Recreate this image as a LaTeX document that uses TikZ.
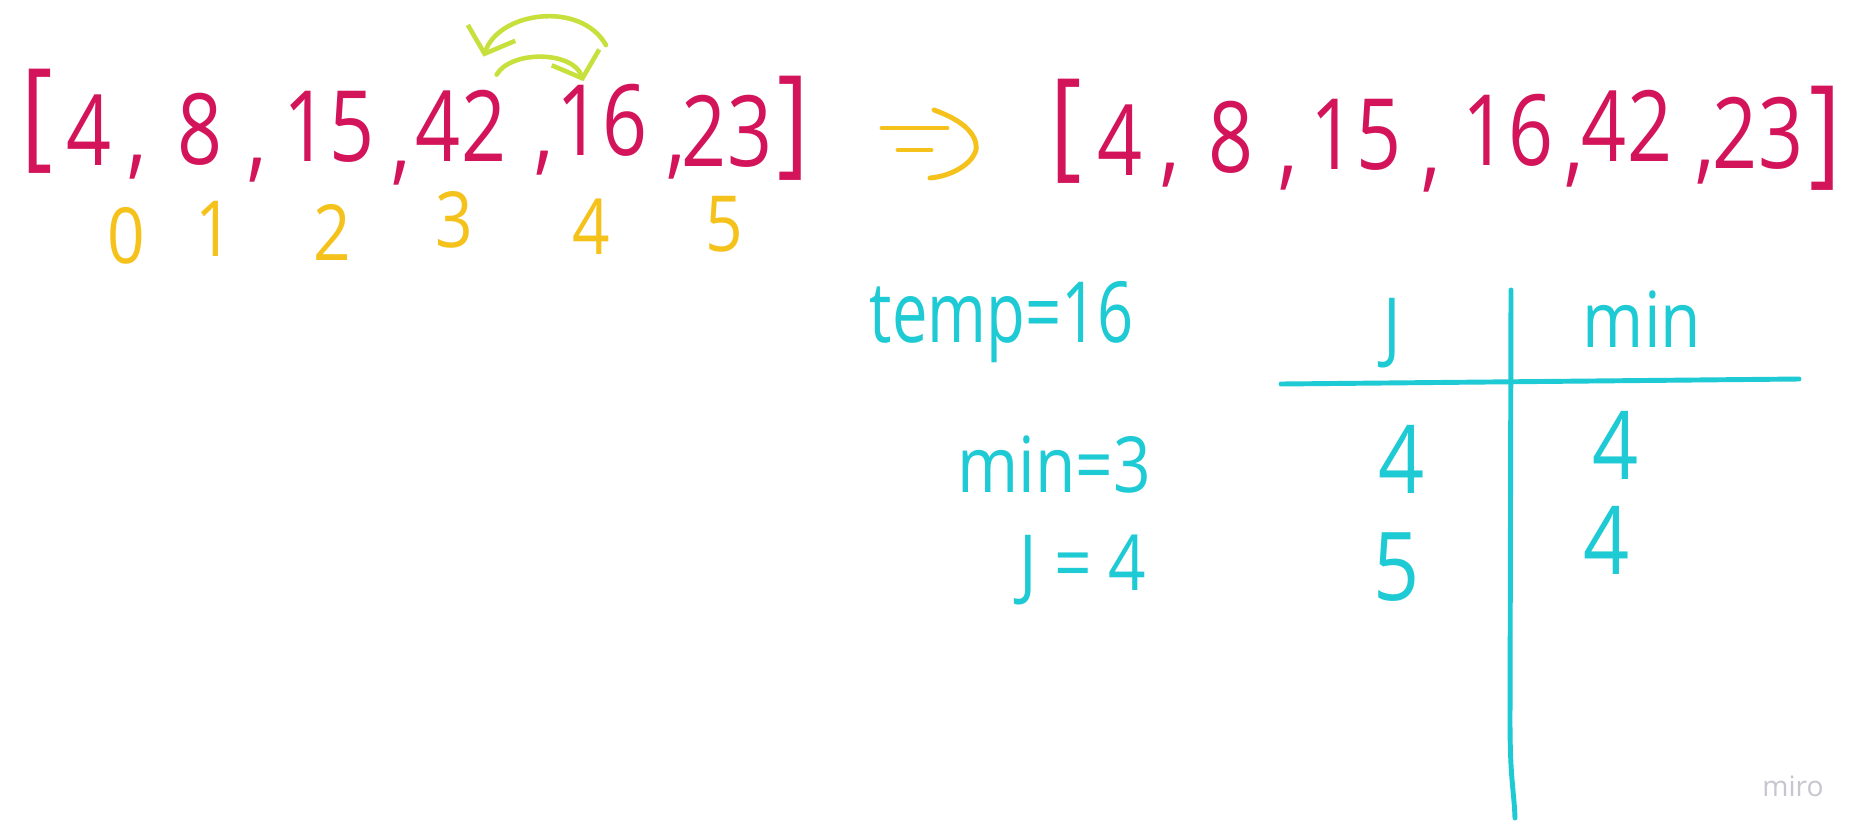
\documentclass[tikz,border=0pt]{standalone}
\usepackage{fontspec}
\setmainfont{Open Sans}
\usepackage{xcolor}
\usepackage{tikz}
\usetikzlibrary{arrows.meta}
\definecolor{inkred}{HTML}{D4145A}
\definecolor{inkyellow}{HTML}{F5C21B}
\definecolor{inklime}{HTML}{C8E03C}
\definecolor{inkcyan}{HTML}{1ECAD3}
\definecolor{mirogray}{HTML}{C6C6D0}
\tikzset{
  arraynum/.style={text=inkred,inner sep=0pt,xscale=0.8,font=\fontsize{28}{34}\selectfont},
  arraybracket/.style={text=inkred,inner sep=0pt,xscale=0.8,font=\fontsize{34}{40}\selectfont},
  indexlabel/.style={text=inkyellow,inner sep=0pt,xscale=0.85,font=\fontsize{22}{26}\selectfont},
  notelabel/.style={text=inkcyan,inner sep=0pt,font=\fontsize{22}{26}\selectfont},
  tablecell/.style={text=inkcyan,inner sep=0pt,xscale=0.85,font=\fontsize{27}{30}\selectfont},
  swaparrow/.style={-{Straight Barb[length=2.2mm,width=5mm]},draw=inklime,line width=1.3pt,line cap=round},
  tableline/.style={draw=inkcyan,line width=1.4pt,line cap=round},
  implarrow/.style={draw=inkyellow,line width=1.4pt,line cap=round}
}

\begin{document}
\begin{tikzpicture}[x=0.01cm,y=-0.01cm]
  \fill[white] (0,0) rectangle (1866,836);
  \useasboundingbox (0,0) rectangle (1866,836);

  \node[arraybracket] (lbopen) at (37,121) {[};
  \node[arraynum] (la0) at (89,130) {4};
  \node[arraynum] (lc0) at (137,167) {,};
  \node[arraynum] (la1) at (200,129) {8};
  \node[arraynum] (lc1) at (257,170) {,};
  \node[arraynum] (la2) at (329,127) {15};
  \node[arraynum] (lc2) at (401,173) {,};
  \node[arraynum] (la3) at (461,126) {42};
  \node[arraynum] (lc3) at (544,163) {,};
  \node[arraynum] (la4) at (602,120) {16};
  \node[arraynum] (lc4) at (676,167) {,};
  \node[arraynum] (la5) at (727,131) {23};
  \node[arraybracket] (lbclose) at (793,128) {]};

  \node[indexlabel] (i0) at (126,236) {0};
  \node[indexlabel] (i1) at (214,229) {1};
  \node[indexlabel] (i2) at (332,232) {2};
  \node[indexlabel] (i3) at (454,220) {3};
  \node[indexlabel] (i4) at (591,227) {4};
  \node[indexlabel] (i5) at (724,224) {5};

  \draw[swaparrow] ([shift={(4,-38)}]la4.north) .. controls +(-25,-45) and +(15,-45) .. ([shift={(-23,-33)}]la3.north east);
  \draw[swaparrow] ([shift={(-10,-15)}]la3.north east) .. controls +(15,-25) and +(-10,-30) .. ([shift={(27,-2)}]la4.north west);

  \draw[implarrow] (882,128) -- (947,128);
  \draw[implarrow] (898,150) -- (931,150);
  \draw[implarrow] (934,110) .. controls (962,120) and (978,134) .. (976,150) .. controls (972,164) and (952,176) .. (930,178);

  \node[arraybracket] (rbopen) at (1066,131) {[};
  \node[arraynum] (ra0) at (1120,140) {4};
  \node[arraynum] (rc0) at (1170,175) {,};
  \node[arraynum] (ra1) at (1231,137) {8};
  \node[arraynum] (rc1) at (1288,178) {,};
  \node[arraynum] (ra2) at (1356,135) {15};
  \node[arraynum] (rc2) at (1431,180) {,};
  \node[arraynum] (ra3) at (1508,130) {16};
  \node[arraynum] (rc3) at (1574,175) {,};
  \node[arraynum] (ra4) at (1627,126) {42};
  \node[arraynum] (rc4) at (1705,172) {,};
  \node[arraynum] (ra5) at (1758,133) {23};
  \node[arraybracket] (rbclose) at (1825,138) {]};

  \node[notelabel,font=\fontsize{24}{28}\selectfont,xscale=0.75,anchor=base] (temp) at (1002,342) {temp=16};
  \node[notelabel,xscale=0.85,anchor=base] (minnote) at (1054,492) {min=3};
  \node[notelabel,xscale=0.85,anchor=base] (jnote) at (1083,590) {J = 4};

  \node[notelabel,xscale=0.85] (jhead) at (1392,333) {J};
  \node[notelabel,xscale=0.85,anchor=base] (minhead) at (1642,347) {min};
  \node[tablecell] (j1) at (1402,459) {4};
  \node[tablecell] (m1) at (1616,445) {4};
  \node[tablecell] (j2) at (1397,567) {5};
  \node[tablecell] (m2) at (1607,540) {4};
  \draw[tableline] (1281,384) -- (1799,379);
  \draw[tableline] (1511,290) -- (1510,720) .. controls (1510,780) and (1514,790) .. (1515,818);

  \node[text=mirogray,font=\fontsize{8}{10}\selectfont] (miro) at (1793,786) {miro};
\end{tikzpicture}
\end{document}
